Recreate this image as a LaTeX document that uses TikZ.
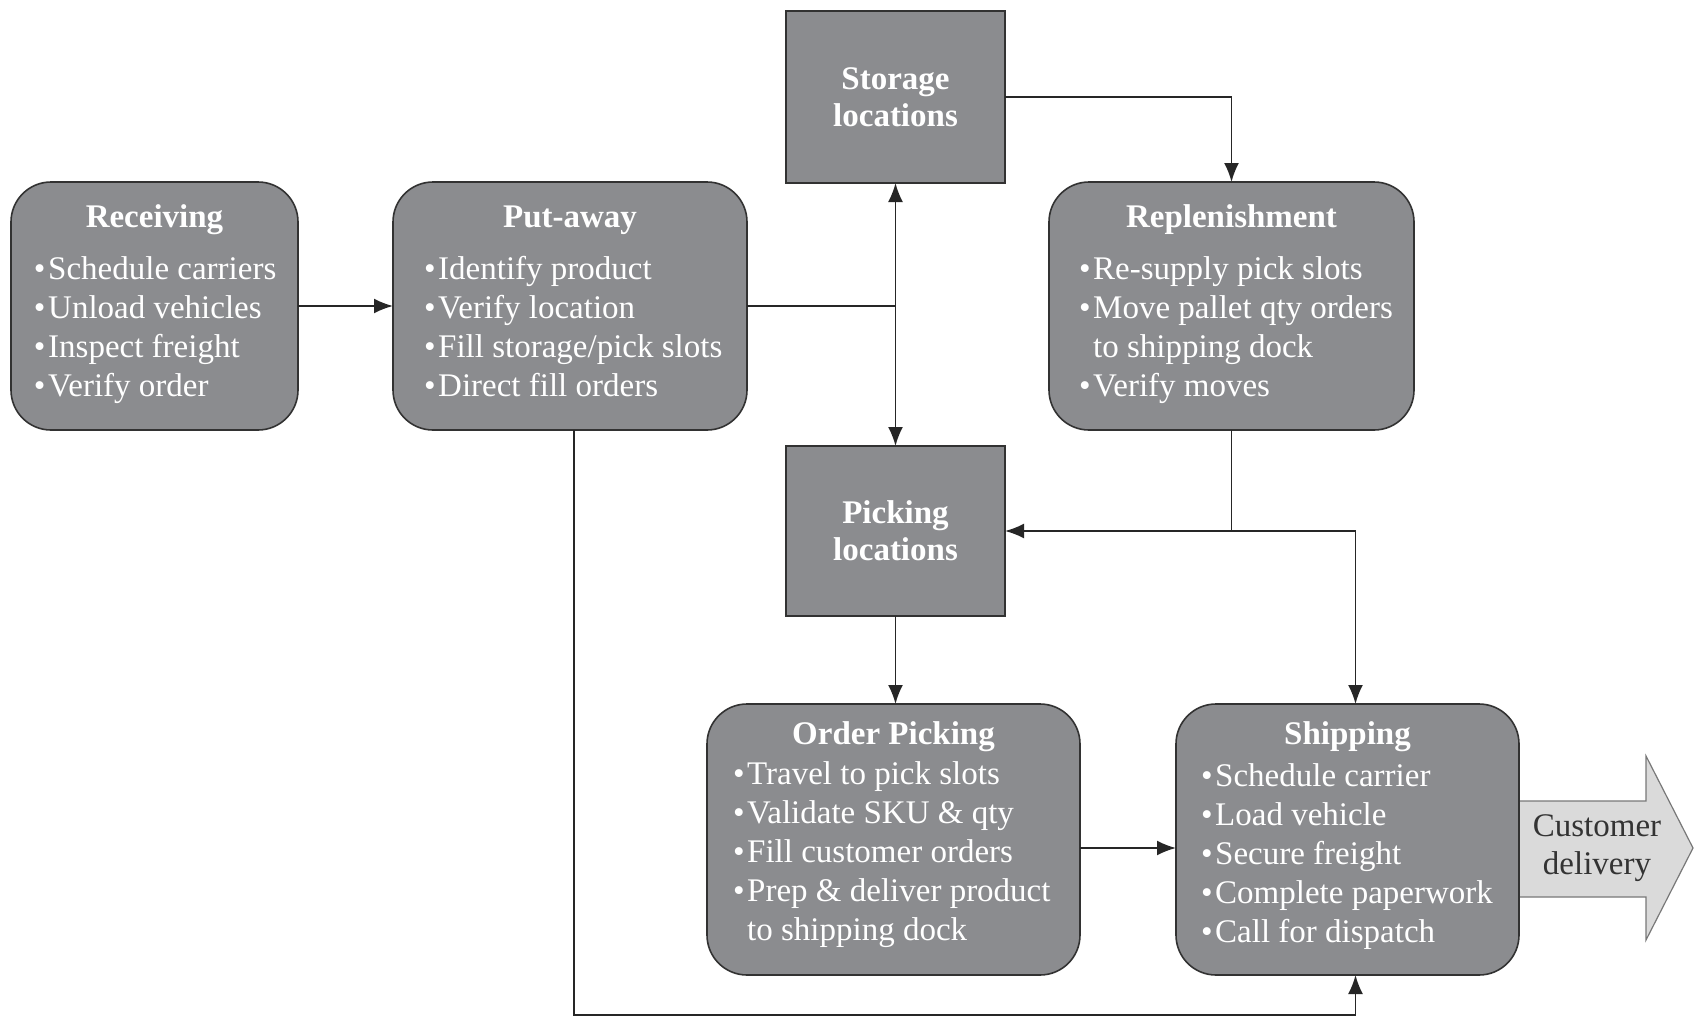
\documentclass[tikz,border=0pt]{standalone}
\usepackage{fontspec}
\setmainfont{Liberation Serif}
\usetikzlibrary{arrows.meta,calc}
\definecolor{boxgray}{RGB}{139,140,143}
\definecolor{edgegray}{RGB}{50,50,50}
\definecolor{arrowfill}{RGB}{218,218,218}
\definecolor{arrowedge}{RGB}{120,120,120}
\newcommand{\bl}{\textbullet\hspace{0.08em}}
\newcommand{\ind}{\phantom{\textbullet}\hspace{0.08em}}
\begin{document}
\begin{tikzpicture}[x=1pt,y=-1pt,
  every node/.style={inner sep=0pt,outer sep=0pt},
  procbox/.style={draw=edgegray,line width=1.6pt,fill=boxgray,rounded corners=40pt},
  locbox/.style={draw=edgegray,line width=1.6pt,fill=boxgray,text=white,font=\fontsize{33}{37}\selectfont\bfseries,align=center},
  titletxt/.style={text=white,font=\fontsize{33}{39}\selectfont\bfseries,anchor=base},
  listtxt/.style={text=white,font=\fontsize{33}{39}\selectfont,align=left,anchor=north west},
  conn/.style={line width=1.9pt,draw=black!85},
  arr/.style={conn,-{Latex[length=19pt,width=15pt]}},
  dblarr/.style={conn,{Latex[length=19pt,width=15pt]}-{Latex[length=19pt,width=15pt]}}
]
\fill[white] (0,0) rectangle (1698,1017);
\useasboundingbox (0,0) rectangle (1698,1017);

% customer delivery arrow (drawn first, behind Shipping)
\draw[draw=arrowedge,fill=arrowfill,line width=1.2pt]
  (1500,801) -- (1646,801) -- (1646,756) -- (1693,848) -- (1646,940) -- (1646,897) -- (1500,897) -- cycle;
\node[text=black!80,font=\fontsize{33}{38}\selectfont,align=center] (cust) at (1597,848) {Customer\\delivery};

% boxes
\node[procbox,minimum width=287pt,minimum height=248pt] (rec) at (154.5,306) {};
\node[procbox,minimum width=354pt,minimum height=248pt] (put) at (570,306) {};
\node[procbox,minimum width=365pt,minimum height=248pt] (rep) at (1231.5,306) {};
\node[locbox,minimum width=219pt,minimum height=172pt] (stor) at (895.5,97) {Storage\\locations};
\node[locbox,minimum width=219pt,minimum height=170pt] (pick) at (895.5,531) {Picking\\locations};
\node[procbox,minimum width=373pt,minimum height=271pt] (ordp) at (893.5,839.5) {};
\node[procbox,minimum width=343pt,minimum height=271pt] (ship) at (1347.5,839.5) {};

% texts
\node[titletxt] (rec-t) at (154.5,227) {Receiving};
\node[listtxt] (rec-l) at (34,252) {\strut\bl Schedule carriers\\\bl Unload vehicles\\\bl Inspect freight\\\bl Verify order};
\node[titletxt] (put-t) at (570,227) {Put-away};
\node[listtxt] (put-l) at (424,252) {\strut\bl Identify product\\\bl Verify location\\\bl Fill storage/pick slots\\\bl Direct fill orders};
\node[titletxt] (rep-t) at (1231.5,227) {Replenishment};
\node[listtxt] (rep-l) at (1079,252) {\strut\bl Re-supply pick slots\\\bl Move pallet qty orders\\\ind to shipping dock\\\bl Verify moves};
\node[titletxt] (ordp-t) at (893.5,744) {Order Picking};
\node[listtxt] (ordp-l) at (733,757) {\strut\bl Travel to pick slots\\\bl Validate SKU \& qty\\\bl Fill customer orders\\\bl Prep \& deliver product\\\ind to shipping dock};
\node[titletxt] (ship-t) at (1347.5,744) {Shipping};
\node[listtxt] (ship-l) at (1201,759) {\strut\bl Schedule carrier\\\bl Load vehicle\\\bl Secure freight\\\bl Complete paperwork\\\bl Call for dispatch};

% connectors
\coordinate (bot) at (0,1015);
\draw[arr] (rec.east) -- (put.west);
\draw[conn] (put.east) -- (put.east -| stor.south);
\draw[dblarr] (stor.south) -- (pick.north);
\draw[arr] (stor.east) -| (rep.north);
\draw[arr] (rep.south) |- (pick.east);
\draw[arr] (rep.south |- pick.east) -| ([xshift=8pt]ship.north);
\draw[arr] (pick.south) -- (pick.south |- ordp.north);
\draw[arr] ([yshift=-8.5pt]ordp.east) -- ([yshift=-8.5pt]ordp.east -| ship.west);
\draw[arr] ([xshift=4pt]put.south) -- ([xshift=4pt]put.south |- bot) -| ([xshift=8pt]ship.south);
\end{tikzpicture}
\end{document}
